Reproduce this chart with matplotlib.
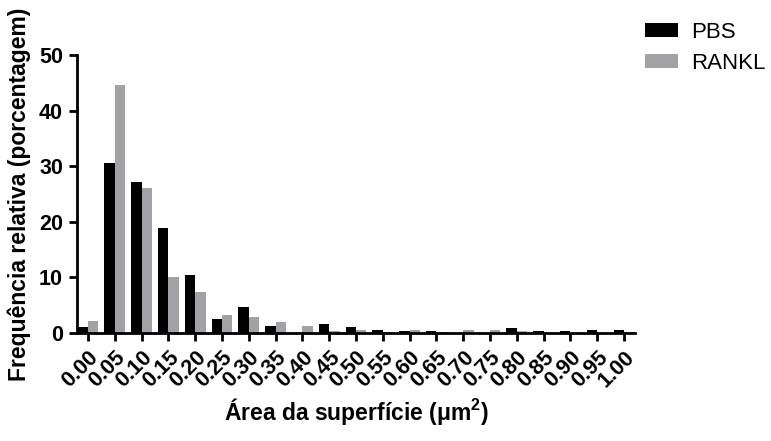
import numpy as np
import matplotlib
matplotlib.use('Agg')
import matplotlib.pyplot as plt

plt.rcParams['font.family'] = ['Liberation Sans', 'DejaVu Sans']
plt.rcParams['mathtext.fontset'] = 'custom'
plt.rcParams['mathtext.rm'] = 'Liberation Sans'
plt.rcParams['mathtext.bf'] = 'Liberation Sans:bold'

# classes de area (um2) e frequencias relativas (%)
classes = ['0.00', '0.05', '0.10', '0.15', '0.20', '0.25', '0.30', '0.35', '0.40', '0.45', '0.50',
           '0.55', '0.60', '0.65', '0.70', '0.75', '0.80', '0.85', '0.90', '0.95', '1.00']
pbs = [1.0, 30.6, 27.1, 18.8, 10.5, 2.6, 4.6, 1.3, 0.0, 1.6, 1.0,
       0.5, 0.3, 0.4, 0.0, 0.0, 0.9, 0.3, 0.3, 0.6, 0.6]
rankl = [2.2, 44.6, 26.1, 10.0, 7.3, 3.2, 2.9, 2.0, 1.3, 0.4, 0.6,
         0.1, 0.6, 0.2, 0.5, 0.6, 0.3, 0.0, 0.0, 0.0, 0.2]

x = np.arange(len(classes))
w = 0.39

fig = plt.figure(figsize=(7.71, 4.41), dpi=100)
ax = fig.add_axes([77 / 771, 108 / 441, 558 / 771, 278 / 441])

ax.bar(x - w / 2, pbs, width=w, color='black', label='PBS')
ax.bar(x + w / 2, rankl, width=w, color='#a2a2a6', label='RANKL')

ax.set_xlim(-0.41, 20.41)
ax.set_ylim(0, 50)
ax.set_yticks([0, 10, 20, 30, 40, 50])
ax.set_xticks(x)
ax.set_xticklabels(classes, rotation=45, ha='right', rotation_mode='anchor')

for s in ['top', 'right']:
    ax.spines[s].set_visible(False)
for s in ['left', 'bottom']:
    ax.spines[s].set_linewidth(2)
ax.tick_params(width=2, length=6, labelsize=15.5, pad=4)
for t in ax.get_xticklabels() + ax.get_yticklabels():
    t.set_fontweight('bold')

ax.set_ylabel('Frequência relativa (porcentagem)', fontsize=16.5, fontweight='bold')
ax.yaxis.set_label_coords(-0.082, 0.5)
ax.set_xlabel('Área da superfície (μm$^\\mathbf{2}$)', fontsize=16.5, fontweight='bold')
ax.xaxis.set_label_coords(0.5, -0.225)

fig.legend(loc='upper left', bbox_to_anchor=(0.81, 0.995), frameon=False, fontsize=16,
           handlelength=1.5, handleheight=0.6, labelspacing=0.45, handletextpad=0.6)

fig.savefig('out.png', dpi=100)
